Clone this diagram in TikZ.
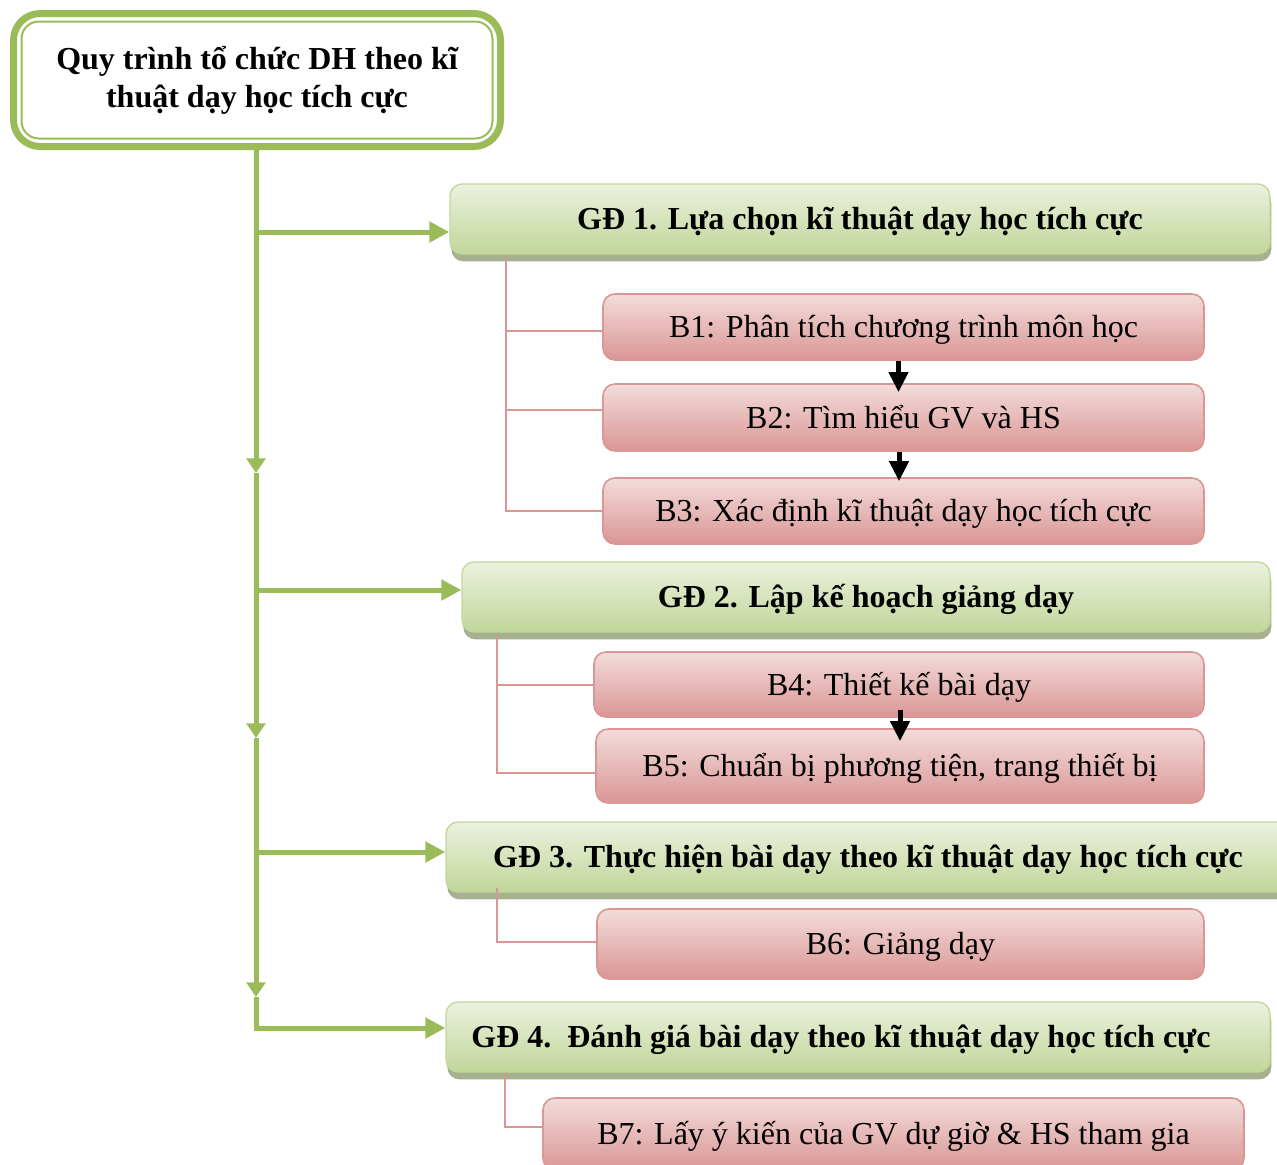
\documentclass[tikz,border=0pt]{standalone}
\usepackage{fontspec}
\setmainfont{Liberation Serif}
\usetikzlibrary{arrows.meta,calc,shadows}
\definecolor{gmain}{RGB}{155,187,89}
\definecolor{gdtop}{RGB}{235,241,222}
\definecolor{gdbot}{RGB}{194,214,154}
\definecolor{gdedge}{RGB}{195,214,155}
\definecolor{gdshadow}{RGB}{166,177,143}
\definecolor{pktop}{RGB}{242,220,219}
\definecolor{pkbot}{RGB}{218,150,148}
\definecolor{pkedge}{RGB}{218,150,148}
\tikzset{
 txt/.style={font=\fontsize{24pt}{28.5pt}\selectfont, align=center, inner sep=0pt},
 oneline/.style={text height=20pt, text depth=4pt},
 titlebox/.style={txt, font=\fontsize{24pt}{28.5pt}\selectfont\bfseries, draw=gmain, line width=5.25pt, fill=white, rounded corners=20pt, minimum width=365.25pt, minimum height=99.75pt},
 gdbox/.style={txt, oneline, font=\fontsize{24pt}{28.5pt}\selectfont\bfseries, draw=gdedge, line width=1pt, top color=gdtop, bottom color=gdbot, rounded corners=9pt, minimum height=52.5pt, drop shadow={shadow xshift=1pt, shadow yshift=-5.5pt, fill=gdshadow, opacity=1}},
 bbox/.style={txt, oneline, draw=pkedge, line width=1.2pt, top color=pktop, bottom color=pkbot, rounded corners=9pt},
 gline/.style={draw=gmain, line width=3.75pt},
 gtipv/.style={-{Triangle[width=14pt,length=11pt]}},
 gtiph/.style={-{Triangle[width=15pt,length=15pt]}},
 pline/.style={draw=pkedge, line width=1.5pt},
 barrow/.style={draw=black, line width=3.75pt, -{Triangle[width=14pt,length=15pt]}},
}
\begin{document}
\begin{tikzpicture}[x=0.75pt,y=-0.75pt]
\useasboundingbox (0,0) rectangle (1277,1164);
\clip (0,0) rectangle (1277,1164);

% title
\node[titlebox] (title) at (257,80) {Quy trình tổ chức DH theo kĩ\\thuật dạy học tích cực};
\draw[draw=gmain, line width=1.5pt, rounded corners=13pt] ($(title.north west)+(11.5,11.5)$) rectangle ($(title.south east)+(-11.5,-11.5)$);

% stage boxes
\node[gdbox, minimum width=615pt] (gd1) at (860,219) {GĐ 1. Lựa chọn kĩ thuật dạy học tích cực};
\node[gdbox, minimum width=606pt] (gd2) at (866,597) {GĐ 2. Lập kế hoạch giảng dạy};
\node[gdbox, minimum width=633pt] (gd3) at (868,857) {GĐ 3. Thực hiện bài dạy theo kĩ thuật dạy học tích cực};
\node[gdbox, minimum width=618pt] (gd4) at (858,1037) {GĐ 4.\ \ Đánh giá bài dạy theo kĩ thuật dạy học tích cực\hspace*{25.5pt}};

% step boxes
\node[bbox, minimum width=450.75pt, minimum height=49.5pt] (b1) at (903.5,327) {B1: Phân tích chương trình môn học};
\node[bbox, minimum width=450.75pt, minimum height=50.25pt] (b2) at (903.5,417.5) {B2: Tìm hiểu GV và HS};
\node[bbox, minimum width=450.75pt, minimum height=49.5pt] (b3) at (903.5,511) {B3: Xác định kĩ thuật dạy học tích cực};
\node[bbox, minimum width=457.5pt, minimum height=48.75pt] (b4) at (899,684.5) {B4: Thiết kế bài dạy};
\node[bbox, minimum width=456pt, minimum height=55.5pt] (b5) at (900,766) {B5: Chuẩn bị phương tiện, trang thiết bị};
\node[bbox, minimum width=455.25pt, minimum height=52.5pt] (b6) at (900.5,944) {B6: Giảng dạy};
\node[bbox, minimum width=525.75pt, minimum height=54pt] (b7) at (893.5,1134) {B7: Lấy ý kiến của GV dự giờ \& HS tham gia};

% green main flow
\coordinate (j1) at (256,232);
\coordinate (a1) at (256,473);
\coordinate (j2) at (256,590);
\coordinate (a2) at (256,738);
\coordinate (j3) at (256,852);
\coordinate (a3) at (256,997);
\coordinate (j4) at (256,1028);
\draw[gline, gtipv] (title.south -| j1) -- (a1);
\draw[gline, gtipv] (a1) -- (a2);
\draw[gline, gtipv] (a2) -- (a3);
\draw[gline, gtiph] (a3) -- (j4) -- (j4 -| gd4.west);
\draw[gline, gtiph] (j1) -- (j1 -| gd1.west);
\draw[gline, gtiph] (j2) -- (j2 -| gd2.west);
\draw[gline, gtiph] (j3) -- (j3 -| gd3.west);

% pink connectors
\coordinate (p1) at ($(gd1.south west)+(57,2)$);
\draw[pline] (p1) |- (b3.west);
\draw[pline] ($(p1 |- b1.west)+(0,4)$) -- ($(b1.west)+(0,4)$);
\draw[pline] ($(p1 |- b2.west)+(0,-8)$) -- ($(b2.west)+(0,-8)$);
\coordinate (p2) at ($(gd2.south west)+(36,2)$);
\draw[pline] (p2) |- ($(b5.west)+(0,7)$);
\draw[pline] (p2 |- b4.west) -- (b4.west);
\coordinate (p3) at ($(gd3.south west)+(52,-5)$);
\draw[pline] (p3) |- ($(b6.west)+(0,-2)$);
\coordinate (p4) at ($(gd4.south west)+(60,0)$);
\draw[pline] (p4) |- ($(b7.west)+(0,-7)$);

% black step arrows
\draw[barrow] ($(b1.south)+(-5,0)$) -- ($(b2.north)+(-5,9)$);
\draw[barrow] ($(b2.south)+(-4.5,0)$) -- ($(b3.north)+(-4.5,4)$);
\draw[barrow] ($(b4.south)+(1,-8)$) -- ($(b5.north)+(0,13)$);
\end{tikzpicture}
\end{document}
